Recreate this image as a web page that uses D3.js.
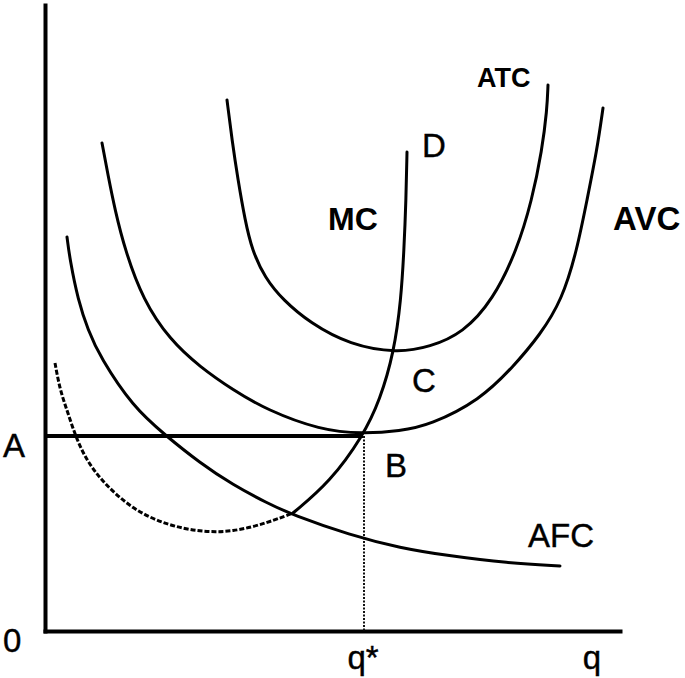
<!DOCTYPE html>
<html>
<head>
<meta charset="utf-8">
<script src="https://cdn.jsdelivr.net/npm/d3@7/dist/d3.min.js"></script>
<style>
  html, body { margin: 0; padding: 0; background: #fff; }
  svg { display: block; }
  text { font-family: "Liberation Sans", Arial, sans-serif; fill: #000; }
</style>
</head>
<body>
<svg id="chart" width="685" height="678"></svg>
<script>
// ---- data (quantity q on x, cost on y, arbitrary units) ----
const mcLower = [[2,53.6],[3,48.2],[4.4,44.2],[7,36.2],[11,30.2],[17.6,24.2],[24.4,21.2],[31,19.8],[37.6,19.8],[44.4,21.6],[49.6,23.6]];
const mcUpper = [[49.6,23.6],[57,29.8],[63.6,39],[67,46.2],[69.8,55.8],[71.2,66.2],[71.8,76.2],[72.2,86.2],[72.4,95.8]];
const afc = [[4.4,78.8],[5,74.2],[6.6,66.2],[8.6,60.2],[11,54.8],[17.6,44.8],[24,39.2],[31,33.6],[37.6,29.2],[44.4,25.6],[49.6,23.2],[61,19.2],[71,16.6],[81,15],[92.4,13.6],[103,13]];
const avc = [[11.4,97.6],[12.6,91.2],[14,84.2],[16,76.2],[19.6,66.2],[25,58.2],[31,52.8],[37.6,48.2],[44.4,44.2],[55,40.2],[63.6,39.4],[71,40],[77,41.2],[87,46.2],[93.6,52.8],[99,59.2],[103.4,66.2],[106.4,76.2],[108.4,86.2],[110.4,96.2],[111.6,104.6]];
const atc = [[36.4,106.2],[37.4,98.2],[38.6,90.2],[40,82.2],[41.4,76.2],[44,70.6],[47.6,66.2],[53,61.6],[61,57.2],[70.4,55.6],[77,56.8],[83.6,59.6],[89.6,66.2],[94.4,76.2],[97.4,86.2],[99.4,96.2],[100.4,104.2],[100.6,109.2]];
const priceA = 39;        // level A
const qStar = 63.6;       // q*
const yTickValues = [0, 39];
const yTickLabels = ["0", "A"];
const xTickValues = [63.6, 109.4];
const xTickLabels = ["q*", "q"];
// curve labels: [text, x, y, bold, size] in data units (text baseline-left)
const curveLabels = [
  ["ATC", 86.4, 108.8, true, 27],
  ["D", 75.4, 94.8, false, 33],
  ["MC", 56.6, 80.2, true, 32],
  ["AVC", 113.6, 80.2, true, 33],
  ["C", 73.4, 47.8, false, 33],
  ["B", 68, 30.8, false, 33],
  ["AFC", 96.6, 16.8, false, 33]
];

// ---- scales ----
const x = d3.scaleLinear().domain([0, 115]).range([45, 620]);
const y = d3.scaleLinear().domain([0, 125.2]).range([631, 5]);

const svg = d3.select("#chart");

// axes (no ticks, thick domain lines)
svg.append("g").attr("transform", `translate(0,${y(0)})`)
  .call(d3.axisBottom(x).tickValues([]).tickSizeOuter(0));
svg.append("g").attr("transform", `translate(${x(0)},0)`)
  .call(d3.axisLeft(y).tickValues([]).tickSizeOuter(0));
svg.selectAll(".domain").attr("stroke", "#000").attr("stroke-width", 4).attr("stroke-linecap", "square");

// tick labels
svg.selectAll(".ylab").data(yTickValues).join("text")
  .attr("x", 3).attr("y", d => y(d) + 21)
  .attr("font-size", 33).attr("stroke", "#000").attr("stroke-width", 0.4)
  .text((d, i) => yTickLabels[i]);
svg.selectAll(".xlab").data(xTickValues).join("text")
  .attr("x", d => x(d)).attr("y", 669)
  .attr("text-anchor", "middle")
  .attr("font-size", 33).attr("stroke", "#000").attr("stroke-width", 0.4)
  .text((d, i) => xTickLabels[i]);

// line A
svg.append("line")
  .attr("x1", x(0)).attr("x2", x(qStar))
  .attr("y1", y(priceA)).attr("y2", y(priceA))
  .attr("stroke", "#000").attr("stroke-width", 4);
// dotted q* line
svg.append("line")
  .attr("x1", x(qStar) + 1).attr("x2", x(qStar) + 1)
  .attr("y1", y(priceA)).attr("y2", y(0))
  .attr("stroke", "#111").attr("stroke-width", 2).attr("stroke-dasharray", "2,1.5");

const line = d3.line().x(d => x(d[0])).y(d => y(d[1])).curve(d3.curveBasis);

function curve(data, opts) {
  svg.append("path").attr("d", line(data))
    .attr("fill", "none")
    .attr("stroke", opts.color || "#000")
    .attr("stroke-width", opts.width || 3)
    .attr("stroke-dasharray", opts.dash || null)
    .attr("stroke-linecap", opts.cap || "round");
}
curve(afc, {});
curve(avc, {});
curve(atc, {});
curve(mcLower, {color: "#000", width: 3, dash: "5,2", cap: "butt"});
curve(mcUpper, {});

// curve labels
svg.selectAll(".clab").data(curveLabels).join("text")
  .attr("x", d => x(d[1])).attr("y", d => y(d[2]))
  .attr("font-weight", d => d[3] ? "bold" : "normal")
  .attr("stroke", d => d[3] ? null : "#000")
  .attr("stroke-width", d => d[3] ? null : 0.4)
  .attr("font-size", d => d[4])
  .text(d => d[0]);
</script>
</body>
</html>
